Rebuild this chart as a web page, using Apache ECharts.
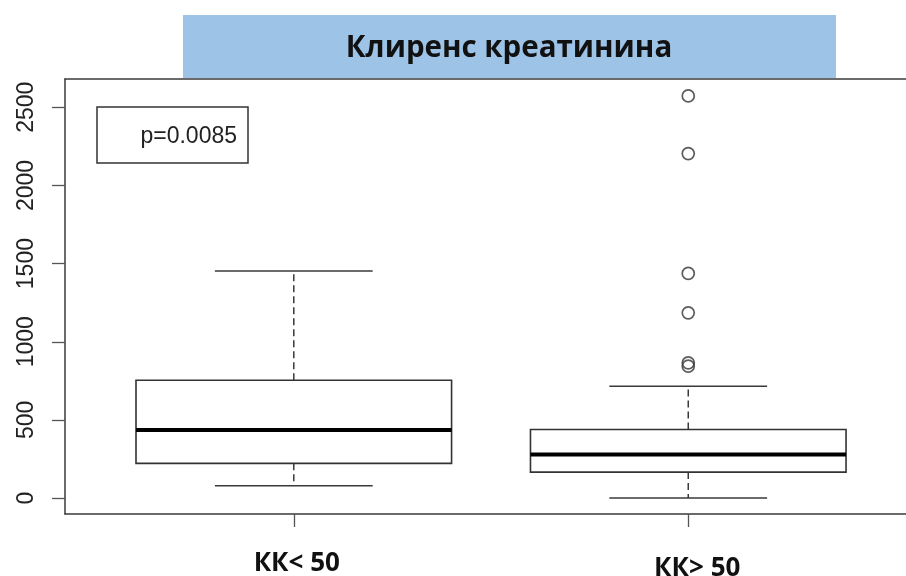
<!DOCTYPE html>
<html>
<head>
<meta charset="utf-8">
<script src="https://cdn.jsdelivr.net/npm/echarts@6/dist/echarts.min.js"></script>
<style>
  html, body { margin: 0; padding: 0; background: #fff; }
  #chart { width: 906px; height: 576px; }
</style>
</head>
<body>
<div id="chart"></div>
<script>
// Group names and five-number summaries of creatinine clearance
const categories = ['КК< 50', 'КК> 50'];
const whiskerLow = [79, 0];
const quartile1 = [222, 166];
const medians = [435, 279];
const quartile3 = [754, 439];
const whiskerHigh = [1453, 716];
// Outlying observations of the second group
const outliersGroup2 = [2573, 2204, 1437, 1185, 865, 844];
const yTicks = [0, 500, 1000, 1500, 2000, 2500];
const pValueText = 'p=0.0085';
const titleText = 'Клиренс креатинина';

const boxData = categories.map((c, i) => [i + 1, whiskerLow[i], quartile1[i], medians[i], quartile3[i], whiskerHigh[i]]);
const outlierData = outliersGroup2.map(v => [2, v]);

const BOX_HALF = 0.4;
const CAP_HALF = 0.2;

function renderBox(params, api) {
  const x = api.value(0);
  const lo = api.value(1), q1 = api.value(2), md = api.value(3), q3 = api.value(4), hi = api.value(5);
  const c = (xx, yy) => api.coord([xx, yy]);
  const pLo = c(x, lo), pQ1 = c(x, q1), pQ3 = c(x, q3), pHi = c(x, hi);
  const boxTL = c(x - BOX_HALF, q3), boxBR = c(x + BOX_HALF, q1);
  const medL = c(x - BOX_HALF, md), medR = c(x + BOX_HALF, md);
  const capLoL = c(x - CAP_HALF, lo), capLoR = c(x + CAP_HALF, lo);
  const capHiL = c(x - CAP_HALF, hi), capHiR = c(x + CAP_HALF, hi);
  const thin = { stroke: '#3a3a3a', lineWidth: 1.5 };
  const dashed = { stroke: '#3a3a3a', lineWidth: 1.5, lineDash: [7, 4] };
  return {
    type: 'group',
    children: [
      { type: 'line', shape: { x1: pQ3[0], y1: pQ3[1], x2: pHi[0], y2: pHi[1] }, style: dashed },
      { type: 'line', shape: { x1: pQ1[0], y1: pQ1[1], x2: pLo[0], y2: pLo[1] }, style: dashed },
      { type: 'line', shape: { x1: capHiL[0], y1: capHiL[1], x2: capHiR[0], y2: capHiR[1] }, style: thin },
      { type: 'line', shape: { x1: capLoL[0], y1: capLoL[1], x2: capLoR[0], y2: capLoR[1] }, style: thin },
      { type: 'rect', shape: { x: boxTL[0], y: boxTL[1], width: boxBR[0] - boxTL[0], height: boxBR[1] - boxTL[1] },
        style: { fill: '#fff', stroke: '#333', lineWidth: 1.6 } },
      { type: 'line', shape: { x1: medL[0], y1: medL[1], x2: medR[0], y2: medR[1] },
        style: { stroke: '#000', lineWidth: 4 } }
    ]
  };
}

const chart = echarts.init(document.getElementById('chart'), null, { renderer: 'canvas' });
const axisLineStyle = { color: '#3a3a3a', width: 1.5 };
chart.setOption({
  backgroundColor: '#fff',
  animation: false,
  grid: { left: 65, right: 0, top: 79, bottom: 62, show: false, containLabel: false, outerBoundsMode: 'none' },
  xAxis: [
    {
      type: 'value',
      position: 'bottom',
      min: 0.42, max: 2.552,
      splitLine: { show: false },
      axisLine: { show: true, onZero: false, lineStyle: axisLineStyle },
      axisTick: { show: true, customValues: [1, 2], length: 13, lineStyle: { color: '#555', width: 1.3 } },
      axisLabel: {
        customValues: [1, 2],
        margin: 37,
        formatter: v => (v === 1 ? '{a|' + categories[0] + '}' : '{b|' + categories[1] + '}'),
        rich: {
          a: { fontFamily: 'Open Sans', fontWeight: 'bold', fontSize: 26, color: '#111', padding: [0, 0, 0, 6] },
          b: { fontFamily: 'Open Sans', fontWeight: 'bold', fontSize: 26, color: '#111', padding: [5, 0, 0, 18] }
        }
      }
    },
    {
      type: 'value',
      position: 'top',
      min: 0.42, max: 2.552,
      splitLine: { show: false },
      axisLine: { show: true, onZero: false, lineStyle: axisLineStyle },
      axisTick: { show: false },
      axisLabel: { show: false }
    }
  ],
  yAxis: {
    type: 'value',
    min: -102, max: 2681,
    splitLine: { show: false },
    axisLine: { show: true, onZero: false, lineStyle: axisLineStyle },
    axisTick: { show: true, customValues: yTicks, length: 13, lineStyle: { color: '#555', width: 1.3 } },
    axisLabel: {
      customValues: yTicks,
      rotate: 90,
      margin: 27,
      fontFamily: 'Liberation Sans',
      fontSize: 23,
      color: '#222',
      formatter: v => String(v)
    }
  },
  graphic: [
    { type: 'rect', shape: { x: 183, y: 15, width: 653, height: 63 }, style: { fill: '#9DC3E6' }, z: 0 },
    { type: 'text', x: 509, y: 49, style: { text: titleText, fontFamily: 'Open Sans', fontWeight: 'bold', fontSize: 29.5,
        fill: '#111', align: 'center', verticalAlign: 'middle' }, z: 1 },
    { type: 'rect', shape: { x: 97, y: 107, width: 151, height: 56 }, style: { fill: '#fff', stroke: '#333', lineWidth: 1.5 }, z: 5 },
    { type: 'text', x: 237, y: 137, style: { text: pValueText, fontFamily: 'Liberation Sans', fontSize: 23,
        fill: '#222', align: 'right', verticalAlign: 'middle' }, z: 6 }
  ],
  series: [
    {
      type: 'custom',
      renderItem: renderBox,
      data: boxData,
      encode: { x: 0, y: [1, 2, 3, 4, 5] },
      z: 3
    },
    {
      type: 'scatter',
      data: outlierData,
      symbol: 'circle',
      symbolSize: 12,
      itemStyle: { color: 'rgba(255,255,255,0)', borderColor: '#333', borderWidth: 1.7 },
      z: 4
    }
  ]
});
</script>
</body>
</html>
